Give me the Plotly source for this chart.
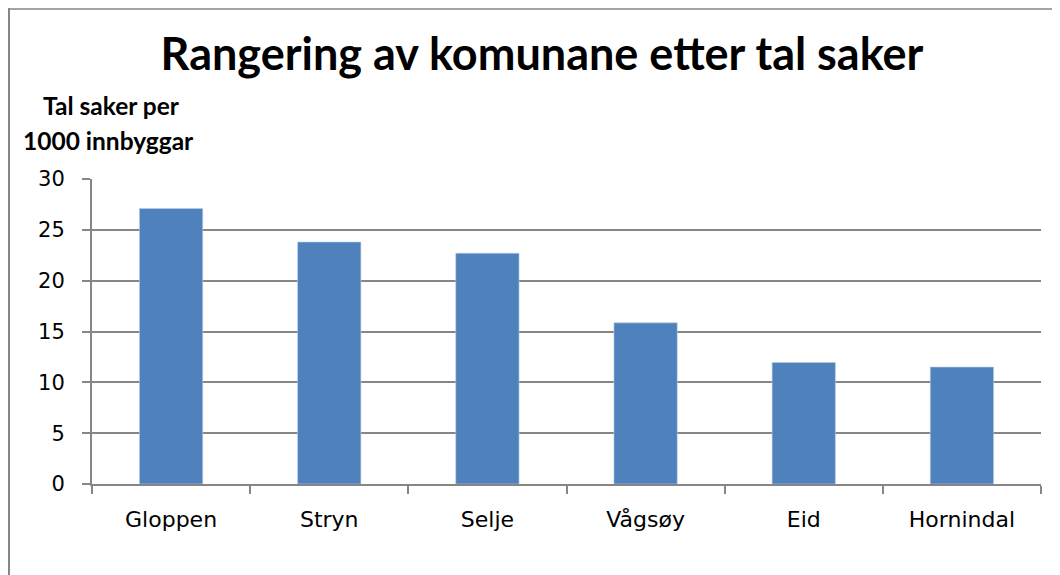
import plotly.graph_objects as go

categories = ["Gloppen", "Stryn", "Selje", "Vågsøy", "Eid", "Hornindal"]
values = [27.1, 23.8, 22.7, 15.85, 11.95, 11.5]
y_ticks = [0, 5, 10, 15, 20, 25, 30]

W, H = 1060, 575
ml, mr, mt, mb = 84, 27, 171, 98.5
pw, ph = W - ml - mr, H - mt - mb

def px_x(x):
    return (x - ml) / pw

def px_y(y):
    return (H - mb - y) / ph

fig = go.Figure(go.Bar(
    x=categories, y=values,
    marker=dict(color="#4F81BD", line=dict(color="#B9CDE5", width=0.6)),
))

fig.update_layout(
    width=W, height=H,
    margin=dict(l=ml, r=mr, t=mt, b=mb),
    paper_bgcolor="white", plot_bgcolor="white",
    bargap=0.6,
    showlegend=False,
    title=dict(text="<b>Rangering av komunane etter tal saker</b>",
               x=px_x(534), xref="paper", xanchor="center",
               y=1 - 46 / H, yanchor="middle",
               font=dict(family="Lato", size=45, color="black")),
    xaxis=dict(
        type="category", showline=True, linecolor="#868686", linewidth=2,
        ticks="outside", tickson="boundaries", ticklen=8, tickcolor="#868686", tickwidth=2,
        tickfont=dict(family="DejaVu Sans", size=22, color="black"),
        ticklabelstandoff=15, showgrid=False,
    ),
    yaxis=dict(
        range=[0, 30], tickvals=y_ticks, showline=True, linecolor="#868686", linewidth=2,
        ticks="outside", ticklen=8, tickcolor="#868686", tickwidth=2,
        tickfont=dict(family="DejaVu Sans", size=21, color="black"),
        ticklabelstandoff=13,
        showgrid=True, gridcolor="#868686", gridwidth=2, zeroline=False,
    ),
    annotations=[
        dict(text="<b>Tal saker per</b>", x=px_x(103), y=px_y(97), xref="paper", yref="paper",
             showarrow=False, xanchor="center", yanchor="middle",
             font=dict(family="Lato", size=24.5, color="black")),
        dict(text="<b>1000 innbyggar</b>", x=px_x(100), y=px_y(132), xref="paper", yref="paper",
             showarrow=False, xanchor="center", yanchor="middle",
             font=dict(family="Lato", size=24.5, color="black")),
    ],
    shapes=[
        dict(type="line", xref="paper", yref="paper",
             x0=px_x(0), x1=px_x(W), y0=px_y(0.75), y1=px_y(0.75),
             line=dict(color="#868686", width=1.5), layer="below"),
        dict(type="line", xref="paper", yref="paper",
             x0=px_x(1), x1=px_x(1), y0=px_y(0), y1=px_y(H),
             line=dict(color="#868686", width=2), layer="below"),
    ],
)

fig.write_html("out.html")
